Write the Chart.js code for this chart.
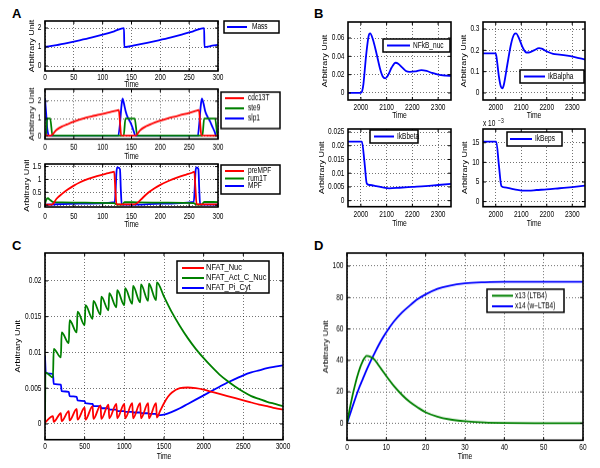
<!DOCTYPE html>
<html>
<head>
<meta charset="utf-8">
<script src="https://cdn.jsdelivr.net/npm/chart.js@4.4.0/dist/chart.umd.min.js"></script>
<style>
body { margin: 0; background: #fff; width: 600px; height: 468px; position: relative; overflow: hidden; font-family: "Liberation Sans", Arial, sans-serif; }
canvas { position: absolute; }
.tag { position: absolute; font-weight: bold; font-size: 13px; line-height: 13px; }
</style>
</head>
<body>
<div class="tag" style="left:12px;top:7px">A</div>
<div class="tag" style="left:314px;top:7px">B</div>
<div class="tag" style="left:12px;top:239px">C</div>
<div class="tag" style="left:314px;top:239px">D</div>
<script>
// ---- Panel A: cell cycle ----
const massT = [0, 20, 40, 60, 80, 100, 120, 137, 137.5, 157, 177, 197, 217, 237, 257, 276, 276.5, 290, 300];
const massV = [1, 1.1, 1.22, 1.35, 1.49, 1.65, 1.83, 2.0, 1.0, 1.1, 1.22, 1.35, 1.49, 1.65, 1.83, 2.0, 1.0, 1.07, 1.12];

const cdcT = [0, 5, 10, 20, 30, 38, 50, 66, 80, 95, 110, 125, 128, 130, 132, 157, 165, 175, 185, 197, 212, 226, 240, 254, 264, 267, 269, 271, 300];
const cdcV = [0.08, 0.02, 0.02, 0.35, 0.55, 0.66, 0.82, 1.0, 1.12, 1.23, 1.35, 1.47, 1.5, 0.8, 0.03, 0.02, 0.33, 0.55, 0.7, 0.85, 1.0, 1.12, 1.24, 1.37, 1.47, 1.5, 0.8, 0.03, 0.02];
const ste9T = [0, 1.5, 4, 9, 13, 136.5, 139.5, 155.5, 160, 273, 276, 295, 299, 300];
const ste9V = [0, 0.05, 1, 1, 0.02, 0.02, 1, 1, 0.02, 0.02, 1, 1, 0.05, 0.02];
const slp1T = [0, 2, 4, 7, 127, 130, 132.5, 134.5, 137, 140, 143, 147, 151, 154, 157, 265, 267.5, 270, 272, 275, 278, 282, 286, 290, 294, 297, 300];
const slp1V = [2.15, 1.3, 0.4, 0.01, 0.01, 0.7, 1.7, 2.15, 1.85, 1.4, 1.1, 0.85, 0.55, 0.25, 0.01, 0.01, 0.7, 1.7, 2.15, 1.85, 1.4, 1.1, 0.85, 0.55, 0.25, 0.01, 0.01];

const preT = [0, 10, 14, 20, 30, 40, 50, 60, 75, 90, 105, 115, 120, 122, 124, 155, 160, 170, 180, 190, 200, 215, 230, 245, 255, 259, 261, 263, 300];
const preV = [0.02, 0.02, 0.05, 0.25, 0.45, 0.62, 0.76, 0.88, 1.02, 1.13, 1.22, 1.27, 1.3, 0.6, 0.03, 0.03, 0.08, 0.3, 0.5, 0.66, 0.79, 0.95, 1.08, 1.19, 1.26, 1.3, 0.6, 0.03, 0.03];
const rumT = [0, 2, 5, 9, 15, 30, 60, 90, 120, 123, 126, 134, 138, 160, 200, 240, 258, 261, 264, 272, 276, 300];
const rumV = [0.05, 0.2, 0.27, 0.2, 0.12, 0.11, 0.1, 0.09, 0.08, 0.04, 0.02, 0.02, 0.12, 0.11, 0.1, 0.09, 0.08, 0.04, 0.02, 0.02, 0.13, 0.12];
const mpfT = [0, 60, 121, 122.5, 124, 125.5, 130, 131.5, 133, 160, 200, 258, 259.5, 261, 262.5, 266, 267.5, 269, 300];
const mpfV = [0.02, 0.06, 0.12, 0.6, 1.3, 1.47, 1.4, 0.6, 0.02, 0.02, 0.06, 0.13, 0.6, 1.3, 1.47, 1.4, 0.6, 0.02, 0.02];

// ---- Panel B: NF-kB ----
const nfkbT = [1950, 2000, 2005, 2010, 2020, 2030, 2036, 2045, 2060, 2075, 2085, 2095, 2105, 2120, 2135, 2145, 2160, 2175, 2190, 2210, 2235, 2255, 2275, 2300, 2330, 2350];
const nfkbV = [0, 0, 0.002, 0.01, 0.04, 0.062, 0.065, 0.06, 0.044, 0.026, 0.018, 0.016, 0.019, 0.028, 0.033, 0.032, 0.028, 0.024, 0.023, 0.0235, 0.025, 0.024, 0.022, 0.02, 0.019, 0.0187];
const ikbaT = [1950, 2000, 2005, 2012, 2020, 2026, 2032, 2045, 2060, 2072, 2080, 2090, 2105, 2120, 2130, 2150, 2170, 2180, 2200, 2225, 2250, 2280, 2310, 2350];
const ikbaV = [0.186, 0.186, 0.15, 0.08, 0.03, 0.022, 0.04, 0.13, 0.23, 0.275, 0.28, 0.26, 0.215, 0.19, 0.19, 0.2, 0.21, 0.208, 0.195, 0.183, 0.18, 0.175, 0.168, 0.157];
const ikbbT = [1950, 2004, 2014, 2023, 2035, 2060, 2085, 2110, 2150, 2200, 2250, 2300, 2350];
const ikbbV = [0.0215, 0.0215, 0.014, 0.0062, 0.0057, 0.0053, 0.0048, 0.0045, 0.0047, 0.005, 0.0053, 0.0057, 0.0061];
const ikbeT = [1950, 2002, 2012, 2022, 2035, 2060, 2085, 2110, 2130, 2160, 2200, 2250, 2300, 2350];
const ikbeV = [15.3, 15.3, 9.5, 4.0, 3.6, 3.3, 3.0, 2.8, 2.8, 2.95, 3.1, 3.4, 3.7, 4.05]; // x 10^-3

// ---- Panel C: NFAT ----
const nucT = [0, 100, 110, 200, 210, 300, 310, 400, 410, 500, 510, 600, 610, 700, 710, 800, 810, 900, 910, 1000, 1010, 1100, 1110, 1200, 1210, 1300, 1310, 1400, 1410, 1450, 1500, 1550, 1600, 1700, 1800, 1900, 2000, 2100, 2200, 2300, 2400, 2500, 2600, 2700, 2800, 2900, 3000];
const nucV = [0.0002, 0.0011, 0.0003, 0.0015, 0.0004, 0.0018, 0.0005, 0.0021, 0.0006, 0.0023, 0.0006, 0.0025, 0.0007, 0.0026, 0.0007, 0.0027, 0.0008, 0.0028, 0.0008, 0.0028, 0.0008, 0.0029, 0.0008, 0.0029, 0.0008, 0.0029, 0.0008, 0.0029, 0.0009, 0.0018, 0.0029, 0.0038, 0.0044, 0.005, 0.0051, 0.005, 0.0048, 0.0045, 0.0042, 0.0039, 0.0036, 0.0033, 0.003, 0.0027, 0.0025, 0.0022, 0.002];
const actT = [0, 5, 100, 110, 200, 210, 300, 310, 400, 410, 500, 510, 600, 610, 700, 710, 800, 810, 900, 910, 1000, 1010, 1100, 1110, 1200, 1210, 1300, 1310, 1400, 1410, 1500, 1600, 1700, 1800, 1900, 2000, 2100, 2200, 2300, 2400, 2500, 2600, 2700, 2800, 2900, 3000];
const actV = [0, 0.0072, 0.0065, 0.0105, 0.0093, 0.0128, 0.0113, 0.0145, 0.0128, 0.0157, 0.0138, 0.0166, 0.0147, 0.0172, 0.0153, 0.0178, 0.0159, 0.0183, 0.0163, 0.0187, 0.0166, 0.019, 0.0168, 0.0193, 0.017, 0.0195, 0.0172, 0.0196, 0.0173, 0.0198, 0.0178, 0.0156, 0.0137, 0.012, 0.0105, 0.0092, 0.008, 0.0069, 0.006, 0.0052, 0.0045, 0.0039, 0.0035, 0.0031, 0.0028, 0.0025];
const cytT = [0, 10, 100, 110, 200, 210, 300, 310, 400, 410, 500, 510, 600, 610, 700, 710, 800, 810, 900, 910, 1000, 1010, 1100, 1110, 1200, 1210, 1300, 1310, 1400, 1410, 1500, 1600, 1700, 1800, 1900, 2000, 2100, 2200, 2300, 2400, 2500, 2600, 2700, 2800, 2900, 3000];
const cytV = [0.0095, 0.0071, 0.007, 0.0056, 0.0055, 0.0046, 0.0045, 0.0039, 0.0038, 0.0033, 0.0032, 0.0029, 0.0028, 0.0025, 0.0025, 0.0022, 0.0022, 0.002, 0.002, 0.0018, 0.0018, 0.0017, 0.0017, 0.0016, 0.0016, 0.0015, 0.0015, 0.0014, 0.0014, 0.0012, 0.0013, 0.0017, 0.0022, 0.0028, 0.0034, 0.004, 0.0046, 0.0052, 0.0058, 0.0063, 0.0068, 0.0072, 0.0075, 0.0078, 0.008, 0.0082];

// ---- Panel D: LTB4 ----
const ltbT = [0, 1, 2, 3, 4, 5, 6, 7, 8, 9, 10, 12, 14, 16, 18, 20, 23, 26, 30, 35, 40, 50, 60];
const x13V = [0, 13, 24, 33, 39.5, 42.8, 42.2, 40.5, 37, 33.5, 30, 23.5, 18, 13.5, 10, 7, 4.2, 2.5, 1.3, 0.5, 0.2, 0.05, 0];
const x14V = [0, 7.5, 15, 22, 28, 34, 39.5, 44.5, 49.5, 54, 58, 65, 70.5, 75, 79, 82, 85.5, 87.5, 89, 89.7, 90, 90, 90];

// axis ticks
const ticksA = [0, 50, 100, 150, 200, 250, 300];
const ticksB = [2000, 2100, 2200, 2300];
const ticksC = [0, 500, 1000, 1500, 2000, 2500, 3000];
const ticksD = [0, 10, 20, 30, 40, 50, 60];

const FONT = "'Liberation Sans', Arial, Helvetica, sans-serif";
const RED = '#ff0000', GREEN = '#008000', BLUE = '#0000ff';
const SX = 0.77; // text in the figure is squeezed horizontally

function pts(xs, ys) {
    return xs.map((x, i) => ({ x: x, y: ys[i] }));
}

function fmt(v) {
    return String(Math.round(v * 1e6) / 1e6);
}

// squeezed text
function txt(ctx, s, x, y, align, size, sx) {
    ctx.save();
    ctx.translate(x, y);
    ctx.scale(sx || SX, 1);
    ctx.font = size + 'px ' + FONT;
    ctx.textAlign = align;
    ctx.textBaseline = 'middle';
    ctx.fillStyle = '#000';
    ctx.fillText(s, 0, 0);
    ctx.restore();
}

function axis(min, max, ticks, isX, size) {
    return {
        type: 'linear',
        min: min,
        max: max,
        afterBuildTicks: s => { s.ticks = ticks.map(v => ({ value: v })); },
        afterFit: s => {
            if (isX) s.height = size; else s.width = size;
            s.paddingLeft = 0; s.paddingRight = 0; s.paddingTop = 0; s.paddingBottom = 0;
        },
        grid: { color: 'rgba(0,0,0,0.55)', lineWidth: 1, drawTicks: false },
        border: { display: false, dash: [1, 2] },
        ticks: { display: false },
        title: { display: false }
    };
}

function framePlugin(g, lg, cx, cy) {
    return {
        id: 'frame',
        afterDraw(chart) {
            const ctx = chart.ctx, a = chart.chartArea, x = chart.scales.x, y = chart.scales.y;
            ctx.save();
            ctx.strokeStyle = '#000';
            ctx.lineWidth = 1;
            ctx.beginPath();
            x.ticks.forEach(t => {
                const p = x.getPixelForValue(t.value);
                ctx.moveTo(p, a.bottom); ctx.lineTo(p, a.bottom - 3);
                ctx.moveTo(p, a.top); ctx.lineTo(p, a.top + 3);
            });
            y.ticks.forEach(t => {
                const p = y.getPixelForValue(t.value);
                ctx.moveTo(a.left, p); ctx.lineTo(a.left + 3, p);
                ctx.moveTo(a.right, p); ctx.lineTo(a.right - 3, p);
            });
            ctx.stroke();
            ctx.lineWidth = 1.6;
            ctx.strokeRect(a.left, a.top, a.width, a.height);

            // tick labels and titles
            x.ticks.forEach(t => txt(ctx, fmt(t.value), x.getPixelForValue(t.value), g.xLab - cy, 'center', 8.5));
            y.ticks.forEach(t => txt(ctx, fmt(t.value), a.left - 3.5, y.getPixelForValue(t.value), 'right', 8.5));
            txt(ctx, 'Time', (a.left + a.right) / 2, g.xTitle - cy, 'center', 9, 0.75);
            ctx.save();
            ctx.translate(g.yTitle - cx, (a.top + a.bottom) / 2);
            ctx.rotate(-Math.PI / 2);
            ctx.scale(1, SX);
            ctx.font = '9px ' + FONT;
            ctx.textAlign = 'center';
            ctx.textBaseline = 'middle';
            ctx.fillStyle = '#000';
            ctx.fillText('Arbitrary Unit', 0, 0);
            ctx.restore();

            if (lg) {
                const b = lg.box;
                ctx.fillStyle = '#fff';
                ctx.fillRect(b[0] - cx, b[1] - cy, b[2], b[3]);
                ctx.lineWidth = 1.5;
                ctx.strokeStyle = '#000';
                ctx.strokeRect(b[0] - cx, b[1] - cy, b[2], b[3]);
                chart.data.datasets.forEach((d, i) => {
                    const yy = lg.rows[i] - cy;
                    ctx.strokeStyle = d.borderColor;
                    ctx.lineWidth = 2;
                    ctx.beginPath();
                    ctx.moveTo(lg.line[0] - cx, yy);
                    ctx.lineTo(lg.line[1] - cx, yy);
                    ctx.stroke();
                    txt(ctx, d.label, lg.text - cx, yy, 'left', lg.size || 8.5, lg.sx);
                });
            }
            if (g.note) {
                txt(ctx, 'x 10', g.note[0] - cx, g.note[1] - cy, 'left', 8.5);
                txt(ctx, '\u22123', g.note[0] - cx + 15, g.note[1] - cy - 3, 'left', 6.5);
            }
            ctx.restore();
        }
    };
}

function panel(g, series, lg) {
    const yw = g.l - (g.yTitle - 7);
    const xh = (g.xTitle + 7) - (g.t + g.h);
    const cx = g.l - yw, cy = g.t - g.pt;
    const cw = yw + g.w + g.pr, ch = g.pt + g.h + xh;
    const cv = document.createElement('canvas');
    cv.width = cw; cv.height = ch;
    cv.style.left = cx + 'px'; cv.style.top = cy + 'px';
    cv.style.width = cw + 'px'; cv.style.height = ch + 'px';
    document.body.appendChild(cv);
    new Chart(cv.getContext('2d'), {
        type: 'line',
        data: {
            datasets: series.map(s => ({
                label: s[0],
                data: pts(s[1], s[2]),
                borderColor: s[3],
                borderWidth: 1.8,
                pointRadius: 0,
                fill: false,
                cubicInterpolationMode: 'monotone'
            }))
        },
        options: {
            responsive: false,
            animation: false,
            events: [],
            layout: { padding: { left: 0, top: g.pt, right: g.pr, bottom: 0 } },
            scales: {
                x: axis(g.x[0], g.x[1], g.x[2], true, xh),
                y: axis(g.y[0], g.y[1], g.y[2], false, yw)
            },
            plugins: { legend: { display: false }, tooltip: { enabled: false } }
        },
        plugins: [framePlugin(g, lg, cx, cy)]
    });
}

// Panel A
panel({ l: 45, t: 21, w: 173, h: 50, pt: 4, pr: 64, xLab: 77.7, xTitle: 85, yTitle: 32, x: [0, 300, ticksA], y: [-0.26, 2.37, [0, 1, 2]] },
    [['Mass', massT, massV, BLUE]],
    { box: [224, 21, 55, 12], rows: [27], line: [227, 247], text: 252 });

panel({ l: 45, t: 89, w: 173, h: 50, pt: 4, pr: 64, xLab: 146.7, xTitle: 155.7, yTitle: 32, x: [0, 300, ticksA], y: [-0.18, 2.7, [0, 1, 2]] },
    [['cdc13T', cdcT, cdcV, RED], ['ste9', ste9T, ste9V, GREEN], ['slp1', slp1T, slp1V, BLUE]],
    { box: [221, 92, 59, 36], rows: [98, 108, 118], line: [225, 244], text: 248 });

panel({ l: 45, t: 164, w: 173, h: 43, pt: 4, pr: 64, xLab: 216.7, xTitle: 225, yTitle: 27, x: [0, 300, ticksA], y: [-0.07, 1.6, [0, 0.5, 1, 1.5]] },
    [['preMPF', preT, preV, RED], ['rum1T', rumT, rumV, GREEN], ['MPF', mpfT, mpfV, BLUE]],
    { box: [221, 165, 59, 29], rows: [171, 178.5, 186], line: [225, 244], text: 248 });

// Panel B
panel({ l: 348, t: 22, w: 103, h: 78, pt: 4, pr: 12, xLab: 107.3, xTitle: 116, yTitle: 325, x: [1950, 2350, ticksB], y: [-0.0077, 0.0775, [0, 0.02, 0.04, 0.06]] },
    [['NFkB_nuc', nfkbT, nfkbV, BLUE]],
    { box: [383, 39, 67, 13], rows: [45.5], line: [387, 410], text: 413 });

panel({ l: 483, t: 22, w: 102, h: 78, pt: 4, pr: 12, xLab: 107.3, xTitle: 116, yTitle: 464, x: [1950, 2350, ticksB], y: [-0.033, 0.333, [0, 0.1, 0.2, 0.3]] },
    [['IkBalpha', ikbaT, ikbaV, BLUE]],
    { box: [520, 70, 64, 13], rows: [76.5], line: [524, 545], text: 548 });

panel({ l: 348, t: 129, w: 103, h: 78, pt: 4, pr: 12, xLab: 214.3, xTitle: 223.3, yTitle: 322, x: [1950, 2350, ticksB], y: [-0.0022, 0.0261, [0, 0.005, 0.01, 0.015, 0.02, 0.025]] },
    [['IkBbeta', ikbbT, ikbbV, BLUE]],
    { box: [370, 130, 48, 13], rows: [136.5], line: [374, 394], text: 397 });

panel({ l: 483, t: 129, w: 102, h: 78, pt: 12, pr: 12, xLab: 214.3, xTitle: 223.3, yTitle: 465, note: [483, 124], x: [1950, 2350, ticksB], y: [-1.3, 18.5, [0, 5, 10, 15]] },
    [['IkBeps', ikbeT, ikbeV, BLUE]],
    { box: [507, 132, 55, 14], rows: [139], line: [510, 532], text: 535 });

// Panel C
panel({ l: 45, t: 253, w: 238, h: 187, pt: 4, pr: 12, xLab: 446.7, xTitle: 456.3, yTitle: 18, x: [0, 3000, ticksC], y: [-0.0022, 0.0239, [0, 0.005, 0.01, 0.015, 0.02]] },
    [['NFAT_Nuc', nucT, nucV, RED], ['NFAT_Act_C_Nuc', actT, actV, GREEN], ['NFAT_Pi_Cyt', cytT, cytV, BLUE]],
    { box: [177, 261, 92, 32], rows: [268, 278, 288], line: [182, 204], text: 206, size: 9, sx: 0.83 });

// Panel D
panel({ l: 347, t: 253, w: 236, h: 187, pt: 4, pr: 12, xLab: 446.7, xTitle: 455.7, yTitle: 326, x: [0, 60, ticksD], y: [-10.8, 108.3, [0, 20, 40, 60, 80, 100]] },
    [['x13 (LTB4)', ltbT, x13V, GREEN], ['x14 (w\u2212LTB4)', ltbT, x14V, BLUE]],
    { box: [487, 289, 77, 23], rows: [295.5, 306], line: [492, 513], text: 515 });
</script>
</body>
</html>
